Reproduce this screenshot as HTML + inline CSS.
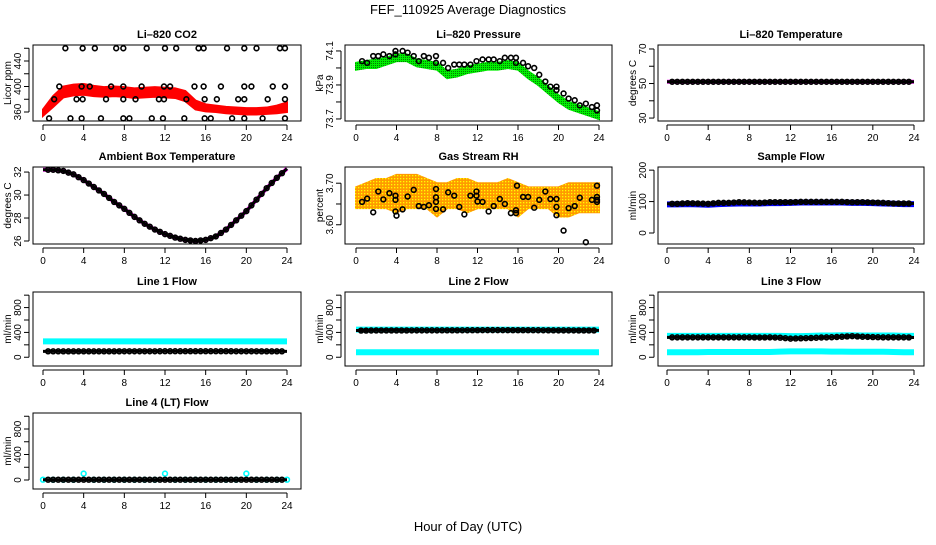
<!DOCTYPE html>
<html><head><meta charset="utf-8"><style>
html,body{margin:0;padding:0;background:#fff;}
svg text{font-family:"Liberation Sans",Arial,sans-serif;}
</style></head><body>
<svg id="chart" width="936" height="540" viewBox="0 0 936 540" xmlns="http://www.w3.org/2000/svg">
<text x="468" y="14" font-size="13" text-anchor="middle">FEF_110925  Average Diagnostics</text>
<text x="468" y="531" font-size="13" text-anchor="middle">Hour of Day (UTC)</text>
</svg>
<script>
// ---- data ----
const hours = [0,1,2,3,4,5,6,7,8,9,10,11,12,13,14,15,16,17,18,19,20,21,22,23,24];
const xTicks = [0,4,8,12,16,20,24];
const co2Upper = [364,385,400,403,404,401,399,400,399,397,398,399,398,397,393,378,372,370,368,367,366,366,367,370,375];
const co2Lower = [354,368,383,386,387,385,384,385,384,382,383,384,383,382,377,364,361,360,358,357,356,356,357,358,360];
const co2PtHours = [2.2,3.9,5.1,7.2,7.9,10.2,12.0,13.1,15.3,15.8,18.1,19.8,21.0,23.3,23.8,1.6,3.8,4.6,6.7,7.9,9.7,11.9,12.5,14.9,15.8,17.5,19.8,20.5,22.6,23.8,1.1,3.3,3.9,6.2,7.9,9.1,11.4,11.9,14.1,15.9,17.1,19.2,19.8,22.1,23.8,0.6,2.7,3.8,5.7,7.9,8.5,10.7,11.8,13.9,15.9,16.5,18.6,19.8,21.6,23.8];
const co2PtVals = [460,460,460,460,460,460,460,460,460,460,460,460,460,460,460,400,400,400,400,400,400,400,400,400,400,400,400,400,400,400,380,380,380,380,380,380,380,380,380,380,380,380,380,380,380,350,350,350,350,350,350,350,350,350,350,350,350,350,350,350];
const presUpper = [74.03,74.04,74.05,74.06,74.08,74.08,74.05,74.04,74.03,73.98,73.99,74.01,74.02,74.03,74.03,74.04,74.03,73.98,73.94,73.89,73.84,73.80,73.78,73.76,73.74];
const presLower = [73.99,74.00,74.00,74.02,74.04,74.04,74.01,74.00,73.99,73.94,73.95,73.97,73.98,73.99,73.99,74.00,73.99,73.94,73.90,73.85,73.80,73.76,73.74,73.72,73.70];
const presPtHours = [0.6,1.1,1.7,2.2,2.7,3.3,3.9,3.9,4.6,5.1,5.7,6.2,6.7,7.2,7.9,7.9,8.6,9.1,9.7,10.2,10.7,11.3,11.9,12.5,13.1,13.6,14.2,14.7,15.3,15.8,15.8,16.5,17.0,17.6,18.1,18.7,19.2,19.8,19.8,20.5,21.0,21.6,22.1,22.7,23.3,23.8,23.8];
const presPtVals = [74.04,74.03,74.07,74.07,74.08,74.07,74.08,74.10,74.10,74.09,74.07,74.04,74.07,74.06,74.07,74.03,74.03,74.00,74.02,74.02,74.02,74.02,74.04,74.05,74.05,74.05,74.04,74.06,74.06,74.06,74.03,74.03,74.01,74.00,73.96,73.92,73.89,73.89,73.87,73.85,73.82,73.81,73.78,73.79,73.77,73.78,73.75];
const liTemp = [51,51,51,51,51,51,51,51,51,51,51,51,51,51,51,51,51,51,51,51,51,51,51,51,51];
const ambTemp = [32.2,32.2,32.1,31.8,31.3,30.7,30.1,29.4,28.8,28.1,27.5,27.0,26.6,26.3,26.1,26.0,26.1,26.4,27.0,27.8,28.6,29.6,30.6,31.5,32.3];
const rhUpper = [3.69,3.70,3.71,3.71,3.72,3.72,3.72,3.71,3.70,3.70,3.71,3.71,3.70,3.70,3.70,3.71,3.70,3.69,3.69,3.69,3.69,3.70,3.70,3.70,3.70];
const rhLower = [3.64,3.64,3.64,3.64,3.63,3.64,3.64,3.64,3.62,3.64,3.64,3.63,3.64,3.64,3.64,3.64,3.62,3.64,3.64,3.64,3.62,3.62,3.63,3.63,3.63];
const rhPtHours = [0.6,1.1,1.7,2.2,2.7,3.3,3.9,3.9,3.9,4.0,4.6,5.1,5.7,6.2,6.7,7.2,7.9,7.9,7.9,7.9,8.6,9.1,9.7,10.2,10.7,11.3,11.9,11.9,12.0,12.5,13.1,13.6,14.2,14.7,15.3,15.8,15.8,15.9,16.5,17.0,17.6,18.1,18.7,19.2,19.8,19.8,19.8,20.5,21.0,21.6,22.1,22.7,23.3,23.8,23.8,23.8,23.8];
const rhPtVals = [3.655,3.663,3.630,3.680,3.661,3.676,3.670,3.660,3.632,3.622,3.637,3.668,3.684,3.645,3.643,3.647,3.686,3.666,3.655,3.638,3.637,3.678,3.670,3.643,3.625,3.670,3.680,3.670,3.656,3.655,3.632,3.645,3.662,3.650,3.628,3.628,3.635,3.694,3.667,3.667,3.641,3.660,3.680,3.662,3.662,3.643,3.623,3.586,3.640,3.645,3.665,3.558,3.660,3.660,3.667,3.655,3.694];
const sampleBlue = [91,91,92,91,90,92,93,94,94,94,95,95,96,97,97,97,97,97,96,96,95,94,93,92,92];
const sampleBlack = [93,93,95,94,93,96,96,98,97,96,98,98,98,99,99,99,99,99,98,98,97,96,94,94,94];
const line1Cyan = [255,255,255,255,255,255,255,255,255,255,255,255,255,255,255,255,255,255,255,255,255,255,255,255,255];
const line1Black = [95,95,95,95,95,95,95,95,96,96,96,96,97,97,97,97,97,97,97,96,96,96,95,95,95];
const line2CyanHi = [445,445,445,445,445,445,445,445,445,445,445,445,445,445,445,445,445,445,445,445,445,445,445,445,445];
const line2Black = [430,430,432,432,432,432,433,433,433,434,434,435,436,437,437,436,436,436,435,434,433,433,432,432,432];
const line2CyanLo = [80,80,80,80,80,80,80,80,80,80,80,80,80,80,80,80,80,80,80,80,80,80,80,80,80];
const line3CyanHi = [345,345,345,345,345,345,345,345,345,345,345,345,340,340,345,350,350,355,355,350,350,350,350,345,345];
const line3Black = [320,320,320,320,320,320,320,320,320,318,320,315,300,305,310,318,322,330,340,330,325,320,320,320,318];
const line3CyanLo = [80,80,80,80,85,85,85,85,85,85,85,90,95,95,95,95,90,90,88,88,88,88,85,80,80];
const line4Cyan = [5,5,5,5,100,5,5,5,5,5,5,5,100,5,5,5,5,5,5,5,100,5,5,5,5];
const line4Black = [5,5,5,5,5,5,5,5,5,5,5,5,5,5,5,5,5,5,5,5,5,5,5,5,5];

// ---- layout ----
const svg = document.getElementById('chart');
const NS = 'http://www.w3.org/2000/svg';
const cols = [{l:33,r:301,x0:43,x1:287},{l:345,r:612,x0:356,x1:599},{l:658,r:924,x0:667,x1:914}];
const rows = [{t:45,b:121},{t:167,b:244},{t:292,b:366},{t:413,b:489}];
function mk(tag, attrs, parent){const e=document.createElementNS(NS,tag);for(const k in attrs)e.setAttribute(k,attrs[k]);(parent||svg).appendChild(e);return e;}

function panel(name, c, r, title, ylab, ymin, ymax, ticks, labels){
  const C=cols[c], R=rows[r];
  const g = mk('g',{});
  
  
  const sx = h => C.x0 + (h/24)*(C.x1-C.x0);
  const sy = v => R.b - (v-ymin)/(ymax-ymin)*(R.b-R.t);
  const box = mk('rect',{x:C.l,y:R.t,width:C.r-C.l,height:R.b-R.t,fill:'none',stroke:'#000','stroke-width':1},g);
  
  
  const tt = mk('text',{x:(C.l+C.r)/2,y:R.t-7,'font-size':11,'font-weight':'bold','text-anchor':'middle'},g);
  tt.textContent = title;
  
  
  // x axis
  const xa = mk('g',{},g);
  
  
  mk('line',{x1:sx(0),x2:sx(24),y1:R.b+4,y2:R.b+4,stroke:'#000'},xa);
  xTicks.forEach(h=>{
    mk('line',{x1:sx(h),x2:sx(h),y1:R.b+4,y2:R.b+9,stroke:'#000'},xa);
    const t=mk('text',{x:sx(h),y:R.b+20,'font-size':10,'text-anchor':'middle'},xa);
    t.textContent=h;
    
    
  });
  // y axis
  const ya = mk('g',{},g);
  
  
  const ax = C.l-4;
  mk('line',{x1:ax,x2:ax,y1:sy(ticks[0]),y2:sy(ticks[ticks.length-1]),stroke:'#000'},ya);
  ticks.forEach(v=>{ mk('line',{x1:ax-5,x2:ax,y1:sy(v),y2:sy(v),stroke:'#000'},ya); });
  labels.forEach(v=>{
    const t=mk('text',{x:0,y:0,'font-size':10,'text-anchor':'middle',transform:`translate(${ax-8},${sy(v)}) rotate(-90)`},ya);
    t.textContent=v;
    
    
  });
  const yl=mk('text',{x:0,y:0,'font-size':10,'text-anchor':'middle',transform:`translate(${C.l-22},${(R.t+R.b)/2}) rotate(-90)`},g);
  yl.textContent=ylab;
  
  
  return {g,sx,sy};
}
function band(P, up, lo, fill, name){
  const pts = hours.map((h,i)=>P.sx(h)+','+P.sy(up[i])).concat(hours.slice().reverse().map((h,j)=>{const i=hours.length-1-j;return P.sx(h)+','+P.sy(lo[i]);}));
  const e=mk('polygon',{points:pts.join(' '),fill:fill,stroke:fill,'stroke-width':2},P.g);
  
  
}
function line(P, vals, color, w, name){
  const e=mk('polyline',{points:hours.map((h,i)=>P.sx(h)+','+P.sy(vals[i])).join(' '),fill:'none',stroke:color,'stroke-width':w,'stroke-linejoin':'round'},P.g);
  
  
}
function pts(P, hs, vs, color, name){
  hs.forEach((h,i)=>{
    const e=mk('circle',{cx:P.sx(h),cy:P.sy(vs[i]),r:2.4,fill:'none',stroke:color,'stroke-width':1.6},P.g);
    
    
  });
}
function dense(P, vals, color, name){
  line(P, vals, color, 3, name+'-line');
  const hs=[], vs=[];
  for(let i=0;i<hours.length-1;i++){ hs.push(hours[i]+0.5); vs.push((vals[i]+vals[i+1])/2); if(i>0){hs.push(hours[i]); vs.push(vals[i]);} }
  pts(P, hs, vs, color, name);
}

// defs pattern for RH cloud
const defs = mk('defs',{});
const pat = mk('pattern',{id:'rhpat',width:3,height:3,patternUnits:'userSpaceOnUse'},defs);
mk('rect',{x:0,y:0,width:3,height:3,fill:'#ff9a00'},pat);
mk('rect',{x:1,y:1,width:1.3,height:1.3,fill:'#ffff00'},pat);
const gpat = mk('pattern',{id:'prpat',width:2,height:2,patternUnits:'userSpaceOnUse'},defs);
mk('rect',{x:0,y:0,width:2,height:2,fill:'#00ee00'},gpat);
mk('rect',{x:1,y:1,width:0.8,height:0.8,fill:'#004400'},gpat);

// Panel 1 CO2
let P = panel('co2',0,0,'Li–820 CO2','Licor ppm',345.9,465.1,[360,380,400,420,440,460],[360,400,440]);
band(P, co2Upper, co2Lower, '#ff0000', 'co2-red-band');
pts(P, co2PtHours, co2PtVals, '#000', 'co2-point');
// Panel 2 Pressure
P = panel('pressure',1,0,'Li–820 Pressure','kPa',73.688,74.135,[73.7,73.8,73.9,74.0,74.1],[73.7,73.9,74.1]);
band(P, presUpper, presLower, 'url(#prpat)', 'pressure-green-band');
pts(P, presPtHours, presPtVals, '#000', 'pressure-point');
// Panel 3 Li temp
P = panel('li-temp',2,0,'Li–820 Temperature','degrees C',28.3,72.3,[30,40,50,60,70],[30,50,70]);
line(P, liTemp, '#ff00ff', 4, 'li-temp-magenta-line');
dense(P, liTemp, '#000', 'li-temp-point');
// Panel 4 Ambient
P = panel('ambient',0,1,'Ambient Box Temperature','degrees C',25.74,32.44,[26,28,30,32],[26,28,30,32]);
line(P, ambTemp, '#ff00ff', 4, 'ambient-magenta-line');
dense(P, ambTemp, '#000', 'ambient-point');
// Panel 5 RH
P = panel('rh',1,1,'Gas Stream RH','percent',3.5537,3.739,[3.60,3.65,3.70],['3.60','3.70']);
band(P, rhUpper, rhLower, 'url(#rhpat)', 'rh-orange-cloud');
pts(P, rhPtHours, rhPtVals, '#000', 'rh-point');
// Panel 6 Sample flow
P = panel('sample-flow',2,1,'Sample Flow','ml/min',-35,210,[0,100,200],[0,100,200]);
line(P, sampleBlue, '#0000ff', 6, 'sample-blue-line');
dense(P, sampleBlack, '#000', 'sample-point');
const fT=[0,200,400,600,800,1000], fL=[0,400,800];
// Line 1
P = panel('line1',0,2,'Line 1 Flow','ml/min',-141,1051,fT,fL);
line(P, line1Cyan, '#00ffff', 6, 'line1-cyan-line');
dense(P, line1Black, '#000', 'line1-point');
// Line 2
P = panel('line2',1,2,'Line 2 Flow','ml/min',-141,1051,fT,fL);
line(P, line2CyanHi, '#00ffff', 6, 'line2-cyan-high');
line(P, line2CyanLo, '#00ffff', 6, 'line2-cyan-low');
dense(P, line2Black, '#000', 'line2-point');
// Line 3
P = panel('line3',2,2,'Line 3 Flow','ml/min',-141,1051,fT,fL);
line(P, line3CyanHi, '#00ffff', 6, 'line3-cyan-high');
line(P, line3CyanLo, '#00ffff', 6, 'line3-cyan-low');
dense(P, line3Black, '#000', 'line3-point');
// Line 4
P = panel('line4',0,3,'Line 4 (LT) Flow','ml/min',-141,1051,fT,fL);
pts(P, hours, line4Cyan, '#00ffff', 'line4-cyan-point');
dense(P, line4Black, '#000', 'line4-point');
</script>
</body></html>
